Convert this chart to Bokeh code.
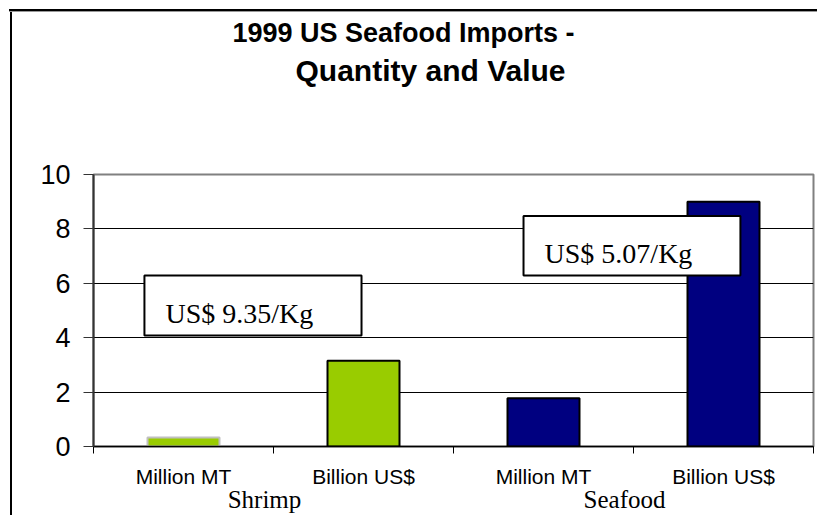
from bokeh.plotting import figure
from bokeh.models import Range1d, FixedTicker, Label, BoxAnnotation, LinearAxis, Title
from bokeh.embed import file_html
from bokeh.resources import INLINE

# ---- data ----
groups = ["Shrimp", "Seafood"]
measures = ["Million MT", "Billion US$", "Million MT", "Billion US$"]
values = [0.33, 3.15, 1.77, 9.0]
bar_colors = ["#99CC00", "#99CC00", "#000080", "#000080"]
bar_lines = ["#C0C0C0", "#000000", "#000000", "#000000"]
price_labels = ["US$ 9.35/Kg", "US$ 5.07/Kg"]
y_ticks = [0, 2, 4, 6, 8, 10]
title_lines = ["1999 US Seafood Imports -", "Quantity and Value"]

W, H = 817, 515
n = len(values)
frame_css = ("linear-gradient(#000,#000) 9px 9px / 100% 2px no-repeat, "
             "linear-gradient(#999,#999) 9px 11px / 100% 1px no-repeat, "
             "linear-gradient(#000,#000) 10px 9px / 2px 100% no-repeat, #fff")
p = figure(width=W, height=H, output_backend="svg", toolbar_location=None,
           x_range=Range1d(0, n), y_range=Range1d(0, 10),
           min_border_left=93, min_border_right=4, min_border_top=174,
           min_border_bottom=60, title_location=None,
           styles={"background": frame_css})

p.background_fill_color = "white"
p.border_fill_alpha = 0
p.outline_line_color = "#808080"
p.outline_line_width = 2

centers = [i + 0.5 for i in range(n)]
p.vbar(x=centers, top=values, width=0.4, bottom=0, fill_color=bar_colors,
       line_color=bar_lines, line_width=2)

# category axis (labels at centers, tick marks at boundaries)
ax = p.xaxis[0]
ax.ticker = FixedTicker(ticks=centers, minor_ticks=list(range(n + 1)))
ax.major_label_overrides = {c: m for c, m in zip(centers, measures)}
ax.major_label_text_font = "Liberation Sans"
ax.major_label_text_font_size = "21px"
ax.major_label_text_color = "#000000"
ax.major_label_standoff = 11
ax.major_tick_line_color = None
ax.major_tick_in = 0
ax.major_tick_out = 0
ax.minor_tick_in = 0
ax.minor_tick_out = 7
ax.minor_tick_line_color = "#000000"
ax.axis_line_color = "#000000"
ax.axis_line_width = 1.5

# group axis
gticks = [2 * g + 1 - 0.05 for g in range(len(groups))]
gax = LinearAxis(ticker=FixedTicker(ticks=gticks),
                 major_label_overrides={t: g for t, g in zip(gticks, groups)},
                 axis_line_color=None, major_tick_line_color=None,
                 minor_tick_line_color=None, major_tick_in=0, major_tick_out=0,
                 major_label_standoff=-5, major_label_text_font="Liberation Serif",
                 major_label_text_font_size="25px", major_label_text_color="#000000")
p.add_layout(gax, "below")

p.yaxis.ticker = FixedTicker(ticks=y_ticks)
p.yaxis.major_tick_in = 0
p.yaxis.major_tick_out = 10
p.yaxis.minor_tick_line_color = None
p.yaxis.axis_line_color = "#333333"
p.yaxis.axis_line_width = 2
p.yaxis.major_tick_line_color = "#333333"
p.yaxis.major_label_text_font = "Liberation Sans"
p.yaxis.major_label_text_font_size = "27px"
p.yaxis.major_label_text_color = "#000000"
p.yaxis.major_label_standoff = 13

p.xgrid.grid_line_color = None
p.ygrid.ticker = FixedTicker(ticks=y_ticks[1:-1])
p.ygrid.grid_line_color = "#000000"
p.ygrid.grid_line_width = 1

# price boxes
boxes = [(0.283, 1.489, 4.08, 6.29), (2.389, 3.594, 6.29, 8.47)]
for (l, r, b, t), txt in zip(boxes, price_labels):
    p.add_layout(BoxAnnotation(left=l, right=r, bottom=b, top=t,
                               fill_color="white", fill_alpha=1.0,
                               line_color="#000000", line_alpha=1.0, line_width=2))
    p.add_layout(Label(x=l + 0.117, y=b + 0.8, text=txt, text_align="left",
                       text_baseline="alphabetic", text_font="Liberation Serif",
                       text_font_size="28px", text_color="#000000"))

# title: spacer nearest the frame, then line 2, then line 1
tfont = dict(text_font="Liberation Sans", text_font_style="bold", text_color="#000000")
p.add_layout(Title(text=" ", align="left", offset=0, standoff=54,
                   text_font_size="27px", **tfont), "above")
p.add_layout(Title(text=title_lines[1], align="left", offset=202, standoff=4,
                   text_font_size="30px", **tfont), "above")
p.add_layout(Title(text=title_lines[0], align="left", offset=139, standoff=4,
                   text_font_size="27px", **tfont), "above")

open("out.html", "w").write(file_html(p, INLINE))
